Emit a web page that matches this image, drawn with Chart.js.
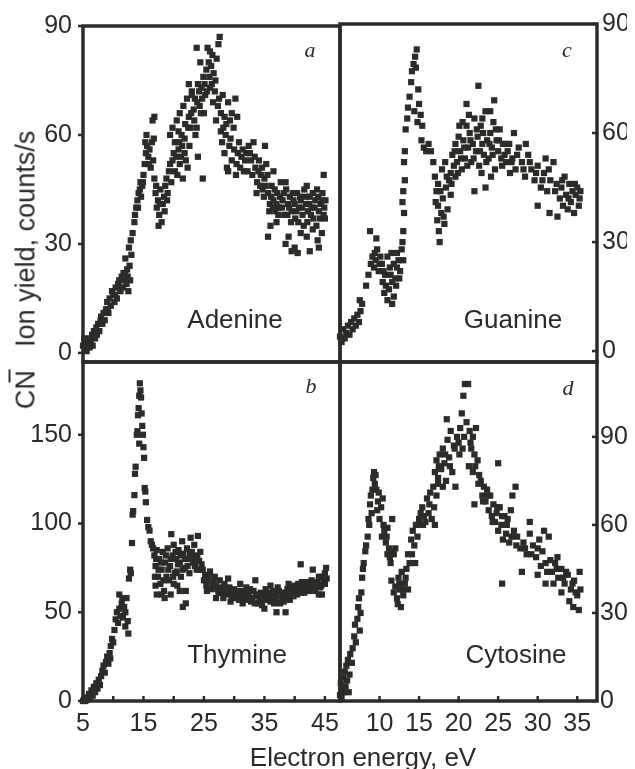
<!DOCTYPE html>
<html>
<head>
<meta charset="utf-8">
<script src="https://cdn.jsdelivr.net/npm/chart.js@4.4.1/dist/chart.umd.min.js"></script>
<style>
  html, body { margin: 0; padding: 0; background: #fff; }
  #wrap { position: relative; width: 635px; height: 769px; overflow: hidden;
          font-family: "Liberation Sans", Arial, sans-serif; color: #2a2a28; }
  #wrap canvas { position: absolute; left: 0; top: 0; }
  .lbl { position: absolute; white-space: nowrap; line-height: 1; }
  .name { font-size: 26px; transform: translateX(-50%); }
  .tag { font-family: "Liberation Serif", "DejaVu Serif", serif; font-style: italic; font-size: 22px; transform: translateX(-50%); }
  .ytitle { font-size: 27px; left: 26px; top: 270px; transform: translate(-50%, -50%) rotate(-90deg); }
  .ytitle .sup { position: relative; top: -0.6em; margin-left: -0.5em; margin-right: 0.5em; }
  .xtitle { font-size: 26px; left: 363px; top: 744px; transform: translateX(-50%); }
</style>
</head>
<body>
<div id="wrap">
  <canvas id="adenine" width="635" height="769"></canvas>
  <canvas id="guanine" width="635" height="769"></canvas>
  <canvas id="thymine" width="635" height="769"></canvas>
  <canvas id="cytosine" width="635" height="769"></canvas>

  <div class="lbl name" style="left:235px; top:306px">Adenine</div>
  <div class="lbl name" style="left:513px; top:306px">Guanine</div>
  <div class="lbl name" style="left:237px; top:641px">Thymine</div>
  <div class="lbl name" style="left:516px; top:641px">Cytosine</div>
  <div class="lbl tag" style="left:310px; top:39px">a</div>
  <div class="lbl tag" style="left:567px; top:39px">c</div>
  <div class="lbl tag" style="left:311px; top:375px">b</div>
  <div class="lbl tag" style="left:568px; top:377px">d</div>
  <div class="lbl ytitle">CN<span class="sup">&minus;</span> Ion yield, counts/s</div>
  <div class="lbl xtitle">Electron energy, eV</div>
</div>
<script>
// tick values
const topYTicks = [0, 30, 60, 90];
const thymineYTicks = [0, 50, 100, 150];
const cytosineYTicks = [0, 30, 60, 90];
const leftXTicks = [5, 10, 15, 20, 25, 30, 35, 40, 45];
const leftXLabels = [5, 15, 25, 35, 45];
const rightXTicks = [10, 15, 20, 25, 30, 35];

// [energy eV, CN- yield counts/s]
const adenine = [
  [5.0,2],[5.2,4],[5.3,1],[5.5,3],[5.6,0.5],[5.8,2.5],[6.0,4],[6.1,1.5],[6.3,3],[6.5,5],[6.6,2],[6.8,6],[7.0,4],[7.2,7],[7.3,5],[7.5,8],[7.7,6],[7.9,9],[8.0,10],[8.2,8],
  [8.4,11],[8.6,9],[8.8,12],[9.0,14],[9.2,11],[9.4,15],[9.6,13],[9.8,17],[10.0,16],[10.2,14],
  [10.4,18],[10.6,15],[10.8,19],[11.0,20],[11.2,17],[11.4,21],[11.6,18],[11.8,20],[12.0,22],[12.2,19],[12.4,21],[12.5,17],[12.7,24],[12.8,20],
  [12.0,26],[12.6,29],[12.9,31],[13.2,33],[13.0,27],
  [13.5,36],[13.8,40],[14.0,42],[14.2,44],[14.4,45],[14.6,43],[14.8,46],[14.9,47],
  [15.2,52],[15.4,55],[15.6,57],[15.8,54],[16.0,56],[16.2,51],[16.4,58],[16.6,53],[15.5,60],[16.5,64],[16.8,65],
  [16.8,48],[17.0,44],[17.2,40],[17.4,42],[17.6,38],[17.8,45],[18.0,36],[18.2,41],[18.4,43],[18.6,46],[18.8,48],[17.5,35],[19.0,44],[19.2,50],
  [19.4,52],[19.6,47],[19.8,53],[20.0,55],[20.2,50],[20.4,54],[20.6,49],[20.8,56],[21.0,52],[21.2,54],[21.5,48],[21.8,55],[22.0,53],[22.3,51],
  [19.4,60],[19.8,62],[20.2,58],[20.5,64],[20.8,61],[21.0,66],[21.3,60],[21.6,68],[21.9,63],[22.2,70],[22.5,65],[22.8,62],[23.0,71],[23.3,67],[23.6,60],[23.9,69],[24.2,72],
  [22.5,74],[23.0,72],[23.5,70],[24.0,74],[24.3,68],[24.6,73],[24.9,76],[25.2,71],[25.4,78],[25.6,84],[25.8,80],[26.0,83],[26.2,79],[26.4,82],[26.6,77],[26.9,75],[27.1,81],[27.4,85],[27.6,87],
  [26.0,73],[25.0,66],[26.5,69],[27.0,64],[23.8,84],[24.4,80],
  [27.5,70],[27.8,66],[28.1,71],[28.4,65],[28.7,63],[29.0,69],[29.3,64],[29.6,66],[29.9,62],[30.2,70],[30.5,65],
  [28.0,58],[28.4,55],[28.8,51],[29.2,57],[29.6,53],[30.0,56],[30.4,52],[30.8,58],[31.2,54],[31.6,50],[32.0,55],[32.4,57],[32.8,53],[29.0,50],[30.3,49],[33.2,58],[35.1,57],
  [33.5,51],[33.8,47],[34.1,53],[34.4,49],[34.7,45],[35.0,48],[35.3,52],
  [35.6,44],[35.9,41],[36.2,46],[36.5,42],[36.8,39],[37.1,44],[37.4,40],[37.7,47],[38.0,42],[38.3,38],[38.6,45],
  [38.9,41],[39.2,43],[39.5,39],[39.8,42],[40.1,37],[40.4,44],[40.7,40],[41.0,42],[41.3,38],[41.6,45],[41.9,41],[42.2,39],[42.5,43],[42.8,40],[43.1,37],[43.4,42],[43.7,45],[44.0,39],[44.3,41],[44.6,44],[44.9,40],[45.0,37],
  [35.6,32],[38.5,30],[39.5,28],[40.0,29],[40.5,27.5],[42.5,28],[44.0,29],[43.8,31],[41.0,33],[43.0,34],
  [44.8,49],[42.0,46],[38.5,47],[36.5,50],[24.8,48],[24.0,54],
  [30.6,55],[31.0,51],[31.4,56],[31.8,53],[32.2,50],[32.6,55],[33.0,49],[33.4,54],[33.7,44],[34.0,50],[34.3,46],[34.6,51],[34.9,43],[35.2,46],[35.5,49],
  [35.8,39],[36.1,43],[36.4,40],[36.7,45],[37.0,41],[37.3,38],[37.6,43],[37.9,40],[38.2,44],[38.8,38],[39.1,40],[39.4,36],[39.7,44],[40.0,41],[40.3,39],
  [40.6,36],[40.9,43],[41.2,40],[41.5,35],[41.8,43],[42.1,36],[42.4,41],[42.7,38],[43.0,44],[43.3,40],[43.6,35],[43.9,43],[44.2,37],[44.5,42],[44.8,38],[45.1,42],
  [36.0,35],[37.0,36],[42.0,32],[44.5,33],[39.0,32],
  [21.8,59],[22.4,62],[22.9,66],[23.4,64],[23.8,62],[24.5,66],[24.7,70],[25.1,74],[25.5,72],[25.9,76],[26.3,74],[26.8,72],[27.3,68],[27.8,61],[28.2,62],[28.6,60],[29.4,59],[22.6,57],[21.4,57],[20.9,58],
  [9.1,12],[10.3,16],[11.1,18],[11.7,22],[12.3,23],[13.6,38],[14.1,40],[14.5,47],[15.0,49],[15.3,58],[15.9,52],[16.7,59],[17.1,46],[17.7,41],[18.5,39],[18.9,42]
];

const guanine = [
  [5.0,4],[5.2,2.5],[5.4,6],[5.6,3.5],[5.8,5],[6.0,7],[6.2,4.5],[6.4,8],[6.6,6],[6.8,9],[7.0,7],[7.2,10],[7.4,8],[7.6,11],[7.8,13],[7.5,14],
  [8.3,18],[8.6,21],[8.9,24],[9.1,26],[9.3,23],[9.5,25],[9.7,28],[9.9,22],[10.1,26],[10.3,24],[8.8,33],[9.6,31],
  [10.4,19],[10.6,16],[10.8,18],[11.0,14],[11.2,17],[11.4,21],[11.6,19],[11.8,15],[12.0,20],[12.2,23],[12.4,25],[11.5,27],[12.6,22],
  [10.5,22],[11.0,26],[11.8,24],[12.2,27],[12.8,28],[13.0,25],
  [12.9,30],[13.0,33],[13.1,38],[13.0,44],[13.2,47],[12.9,41],[13.1,52],[13.2,55],
  [13.3,61],[13.5,64],[13.6,67],[13.8,70],[14.0,74],[14.1,77],[14.3,79],[14.5,81],[14.7,83],[14.6,78],[14.9,72],[15.0,68],[15.2,65],[14.4,66],[14.8,63],[15.4,62],
  [15.3,58],[15.6,56],[15.9,55],[16.2,57],[16.5,55],
  [16.8,52],[17.0,48],[17.2,44],[17.4,40],[17.3,36],[17.5,33],[17.6,30],[17.8,38],[18.0,42],[18.2,35],[18.4,45],[18.6,39],[18.8,47],[17.9,50],[18.3,52],[19.0,43],
  [19.0,49],[19.2,54],[19.4,51],[19.6,57],[19.8,52],[20.0,59],[20.2,55],[20.4,50],[20.6,58],[20.8,53],[21.0,62],[21.2,56],[21.4,60],[21.6,52],[21.8,57],
  [22.0,64],[22.2,55],[22.4,59],[22.6,51],[22.8,62],[23.0,57],[23.2,54],[23.4,66],[23.6,58],[23.8,53],[24.0,60],[24.2,56],[24.4,63],[24.6,50],[24.8,58],
  [25.0,55],[25.2,61],[25.4,53],[25.6,57],[25.8,54],[26.0,52],[22.5,73],[21.0,68],[24.5,69],[20.5,63],[26.5,49],[22.0,44],[23.4,45],
  [26.4,57],[26.8,53],[27.2,50],[27.6,56],[28.0,52],[28.4,48],[28.8,54],[29.2,50],[29.6,47],[30.0,51],[30.4,45],[30.8,49],[31.2,44],[31.6,47],[32.0,52],[32.4,46],[27.0,60],[28.5,57],[31.0,53],
  [32.8,42],[33.0,45],[33.2,40],[33.4,48],[33.6,43],[33.8,39],[34.0,46],[34.2,41],[34.4,44],[34.6,38],[34.8,43],[35.0,45],[35.2,40],[35.4,44],[30.0,40],[31.5,38],[32.5,37],
  [19.1,46],[19.5,55],[19.9,49],[20.3,53],[20.7,56],[21.1,51],[21.5,58],[21.9,53],[22.3,61],[22.7,55],[23.1,60],[23.5,52],[23.9,57],[24.3,54],[24.7,61],[25.1,58],[25.5,51],[25.9,57],[26.2,55],
  [20.1,62],[21.3,65],[23.0,64],[24.0,66],[19.6,48],[22.9,49],[24.1,48],[26.7,52],[27.4,54],[28.2,50],[29.0,52],[29.8,49],[30.6,47],[31.4,50],[32.2,44],[33.1,47],[33.9,42],[34.7,46],[35.3,42],
  [17.1,41],[17.7,44],[18.1,37],[18.5,48],[17.4,46],[9.4,27],[10.0,24],[10.7,21],[11.3,23],[12.1,18],[11.6,13],[12.5,20]
];

const thymine = [
  [5.0,0],[5.2,1],[5.4,0],[5.6,2],[5.8,1],[6.0,4],[6.2,2],[6.4,6],[6.6,3],[6.8,8],[7.0,5],[7.2,10],[7.4,7],[7.6,12],[7.8,9],
  [8.0,14],[8.2,17],[8.4,20],[8.6,16],[8.8,22],[9.0,25],[9.2,21],[9.4,27],[9.5,24],
  [9.6,31],[9.8,35],[10.0,33],
  [10.2,40],[10.4,46],[10.6,50],[10.8,44],[11.0,52],[11.2,48],[11.4,55],[11.6,47],[11.8,53],[12.0,50],[12.2,58],[12.4,45],[11.0,60],[11.5,58],[12.5,38],[12.0,42],
  [12.6,69],[12.8,74],[12.9,72],[13.1,89],[13.2,105],[13.3,107],
  [13.5,116],[13.6,128],[13.7,132],[13.9,150],[14.0,152],[14.1,161],[14.2,165],[14.3,172],[14.4,179],[14.5,175],[14.6,171],[14.7,162],[14.8,155],[14.9,150],[15.0,143],[15.1,137],[14.3,145],[15.2,120],[15.3,118],[15.4,112],
  [15.6,102],[15.8,98],[16.0,96],[16.2,90],[16.4,88],[16.6,86],
  [16.8,82],[17.0,76],[17.2,85],[17.4,70],[17.6,80],[17.8,66],[18.0,74],[18.2,84],[18.4,62],[18.6,78],[18.8,70],[19.0,86],[19.2,68],[19.4,76],[19.6,94],[19.8,82],
  [20.0,88],[20.2,72],[20.4,80],[20.6,65],[20.8,85],[21.0,78],[21.2,70],[21.4,90],[21.6,83],[21.8,75],[22.0,62],[22.2,86],[22.4,80],[22.6,72],[22.8,92],
  [23.0,84],[23.2,78],[23.4,88],[23.6,81],[23.8,74],[24.0,93],[24.2,79],[24.4,84],[24.6,77],[21.5,53],[18.0,60],[22.0,55],[17.0,65],[20.5,73],[19.5,60],
  [24.8,74],[25.2,71],[25.6,68],[26.0,73],[26.4,66],[26.8,70],[27.2,63],[27.6,68],[28.0,61],[28.4,66],[28.8,60],[29.2,64],[29.6,58],[30.0,63],[30.4,60],[30.8,57],[25.5,62],[27.0,58],[29.0,69],[31.0,66],
  [31.2,62],[31.6,58],[32.0,64],[32.4,60],[32.8,56],[33.2,62],[33.6,59],[34.0,55],[34.4,61],[34.8,57],[35.2,63],[35.6,59],[36.0,56],[36.4,62],[36.8,58],[37.2,64],[37.6,55],[38.0,61],[38.4,59],[38.8,63],
  [39.2,57],[39.6,62],[40.0,65],[40.4,60],[40.8,63],[41.2,67],[41.6,61],[42.0,65],[42.4,62],[42.8,68],[43.2,64],[43.6,66],[44.0,70],[44.4,65],[44.8,68],[45.0,72],
  [35.0,52],[37.0,50],[38.5,50],[33.5,68],[41.0,77],[43.0,74],[44.5,60],[45.2,75],[36.0,65],[39.0,66],
  [25.0,68],[25.4,65],[25.8,70],[26.2,63],[26.6,67],[27.0,65],[27.4,61],[27.8,64],[28.2,58],[28.6,63],[29.0,61],[29.4,56],[29.8,60],[30.2,58],[30.6,62],[31.0,59],[31.4,55],[31.8,61],
  [32.2,57],[32.6,63],[33.0,58],[33.4,55],[33.8,60],[34.2,58],[34.6,54],[35.0,60],[35.4,57],[35.8,61],[36.2,59],[36.6,55],[37.0,60],[37.4,62],[37.8,58],[38.2,56],[38.6,61],[39.0,60],
  [39.4,64],[39.8,59],[40.2,62],[40.6,66],[41.0,61],[41.4,64],[41.8,63],[42.2,67],[42.6,64],[43.0,66],[43.4,62],[43.8,67],[44.2,64],[44.6,70],[45.0,66],[44.0,60],[45.3,69],
  [17.1,80],[17.5,74],[17.9,78],[18.3,68],[18.7,82],[19.1,74],[19.5,80],[19.9,70],[20.3,84],[20.7,77],[21.1,82],[21.5,74],[21.9,80],[22.3,76],[22.7,83],[23.1,80],[23.5,76],[23.9,82],[24.3,74],
  [18.5,58],[17.2,60],[16.9,70],[21.0,62],[20.0,66]
];

const cytosine = [
  [5.0,2],[5.1,6],[5.2,1],[5.3,4],[5.4,8],[5.5,3],[5.6,10],[5.7,5],[5.8,12],[5.9,7],[6.0,14],[6.2,9],[6.3,16],[6.5,13],[6.1,3],
  [6.6,18],[6.8,22],[6.9,26],[7.0,20],[7.2,28],[7.3,32],[7.4,35],[7.6,30],[7.5,24],[7.7,37],
  [7.8,42],[7.9,45],[8.0,47],[8.2,51],[8.3,53],[8.5,56],[8.6,62],[8.7,60],
  [8.8,67],[8.9,70],[9.0,64],[9.2,76],[9.3,78],[9.4,74],[9.5,77],[9.6,72],[9.7,65],[9.8,68],[10.0,62],[10.2,66],[10.4,69],[10.6,58],[10.3,56],
  [10.8,54],[11.0,50],[11.2,52],[11.4,47],[11.6,51],[11.8,50],[12.0,52],[11.0,59],[11.6,62],
  [11.5,41],[11.8,37],[12.0,39],[12.2,35],[12.4,42],[12.6,38],[12.8,44],[13.0,36],[12.7,32],[12.3,33],[13.2,40],[13.4,45],[13.6,38],
  [13.6,50],[13.8,47],[14.0,55],[14.2,58],[14.4,53],[14.6,60],[14.8,56],[15.0,62],[15.2,64],[14.5,47],
  [15.4,66],[15.6,63],[15.8,61],[16.0,69],[16.2,64],[16.4,71],[16.6,62],[16.8,73],[17.0,60],[17.2,70],[17.4,74],
  [17.0,78],[17.2,82],[17.4,76],[17.6,84],[17.8,79],[18.0,86],[18.2,81],[18.4,75],[18.6,89],[18.8,83],[19.0,92],[19.2,78],[19.4,87],[19.6,73],[19.8,90],[18.5,96],[18.0,73],
  [20.0,88],[20.2,93],[20.4,98],[20.6,104],[20.8,108],[21.2,108],[21.0,95],[21.4,92],[21.6,86],[21.8,90],[22.0,84],[22.2,93],[20.5,86],[21.3,80],[21.8,78],
  [22.4,82],[22.6,77],[22.8,75],[23.0,70],[23.2,73],[23.4,68],[23.6,72],[23.8,65],[24.0,70],[24.2,63],[24.4,67],[24.6,61],[24.8,64],[25.0,58],[25.2,66],
  [25.4,60],[25.6,55],[25.8,63],[26.0,57],[26.2,62],[26.4,54],[26.6,65],[26.8,70],[27.0,58],[25.0,81],[22.0,67],[27.2,73],[25.5,40],
  [27.4,56],[27.8,52],[28.2,54],[28.6,50],[29.0,57],[29.4,53],[29.8,49],[30.2,55],[30.6,51],[31.0,47],[31.4,56],[28.0,44],[29.0,61],[30.8,58],
  [31.8,44],[32.2,47],[32.6,42],[33.0,45],[33.4,40],[33.8,43],[34.2,38],[34.6,41],[35.0,36],[35.3,44],[32.0,40],[33.0,37],[34.0,34],[35.2,31],[34.5,32],[32.5,49],[30.0,43],[31.0,40],
  [9.1,72],[9.9,71],[10.5,60],[10.9,56],[11.3,49],[12.5,40],[12.9,38],[13.3,42],[14.1,50],[14.9,60],[15.5,60],[16.3,67],[16.9,66],[17.5,80],[18.3,84],[18.9,80],[19.5,86],[20.1,84],
  [20.7,90],[21.5,88],[22.1,80],[22.5,74],[23.1,68],[23.7,70],[24.3,61],[24.9,66],[25.5,63],[26.1,60],[26.7,56],[27.3,53],[28.4,52],[29.2,50],[30.0,52],[30.4,46],[31.2,44],[31.6,48],
  [32.4,45],[33.2,42],[33.6,44],[34.4,40],[34.8,37],[35.4,38]
];

const ink = '#2b2b28';
const tickFont = { family: '"Liberation Sans", Arial, sans-serif', size: 25 };

// frame around each panel plus the little tick marks
const frame = {
  id: 'frame',
  beforeDatasetsDraw(chart, args, opts) {
    const { ctx, chartArea: a, scales } = chart;
    ctx.save();
    ctx.strokeStyle = ink;
    ctx.lineWidth = 3.5;
    ctx.strokeRect(a.left, a.top, a.right - a.left, a.bottom - a.top);
    ctx.lineWidth = 2.5;
    (opts.marks || []).forEach(m => {
      const s = scales[m.axis];
      s.ticks.forEach(t => {
        const p = s.getPixelForValue(t.value);
        ctx.beginPath();
        if (m.side === 'bottom') {
          ctx.moveTo(p, a.bottom); ctx.lineTo(p, a.bottom - 5);
        } else if (m.side === 'left') {
          const d = m.out ? -5 : 5;
          ctx.moveTo(a.left, p); ctx.lineTo(a.left + d, p);
        } else {
          const d = m.out ? 5 : -5;
          ctx.moveTo(a.right, p); ctx.lineTo(a.right + d, p);
        }
        ctx.stroke();
      });
    });
    ctx.restore();
  }
};

function setTicks(list) {
  return s => { s.ticks = list.map(v => ({ value: v })); };
}

function yAxis(pos, min, max, ticks, pad) {
  return {
    type: 'linear', position: pos, min, max,
    afterBuildTicks: setTicks(ticks),
    afterFit: s => { s.width = pos === 'left' ? 60 : 30; },
    grid: { display: false, drawTicks: false },
    border: { display: false },
    ticks: { padding: pad, font: tickFont, color: '#2a2a28', autoSkip: false }
  };
}

function xAxis(min, max, ticks, labels) {
  return {
    type: 'linear', min, max,
    display: !!labels,
    afterBuildTicks: setTicks(ticks),
    afterFit: s => { s.height = labels ? 50 : 0; },
    grid: { display: false, drawTicks: false },
    border: { display: false },
    ticks: {
      padding: 8, font: tickFont, color: '#2a2a28', autoSkip: false, maxRotation: 0,
      callback: v => (labels && labels.includes(v)) ? String(v) : ''
    }
  };
}

function panel(id, pts, x, y, pad, marks) {
  return new Chart(document.getElementById(id), {
    type: 'scatter',
    data: {
      datasets: [{
        data: pts.map(p => ({ x: p[0], y: p[1] })),
        pointStyle: 'rect',
        pointRadius: 4.4,
        pointBorderWidth: 0,
        backgroundColor: ink,
        borderColor: ink,
        clip: 8
      }]
    },
    options: {
      responsive: false,
      animation: false,
      devicePixelRatio: 1,
      layout: { padding: pad },
      plugins: { legend: { display: false }, tooltip: { enabled: false }, frame: { marks } },
      scales: { x, y }
    },
    plugins: [frame]
  });
}

panel('adenine', adenine,
  xAxis(5, 47.5, leftXTicks, null),
  yAxis('left', -2.5, 90, topYTicks, 11),
  { left: 23, top: 24, right: 295, bottom: 407 },
  [{ axis: 'y', side: 'left', out: true }]);

panel('guanine', guanine,
  xAxis(5, 37.5, rightXTicks, null),
  yAxis('right', -3, 90, topYTicks, 5),
  { left: 340, top: 24, right: 8, bottom: 407 },
  [{ axis: 'y', side: 'right', out: false }]);

panel('thymine', thymine,
  xAxis(5, 47.5, leftXTicks, leftXLabels),
  yAxis('left', 0, 191, thymineYTicks, 11),
  { left: 23, top: 362, right: 295, bottom: 18 },
  [{ axis: 'y', side: 'left', out: true }, { axis: 'x', side: 'bottom' }]);

panel('cytosine', cytosine,
  xAxis(5, 37.5, rightXTicks, rightXTicks),
  yAxis('right', 0, 115.5, cytosineYTicks, 3),
  { left: 340, top: 362, right: 8, bottom: 18 },
  [{ axis: 'y', side: 'right', out: false }, { axis: 'x', side: 'bottom' }]);
</script>
</body>
</html>
